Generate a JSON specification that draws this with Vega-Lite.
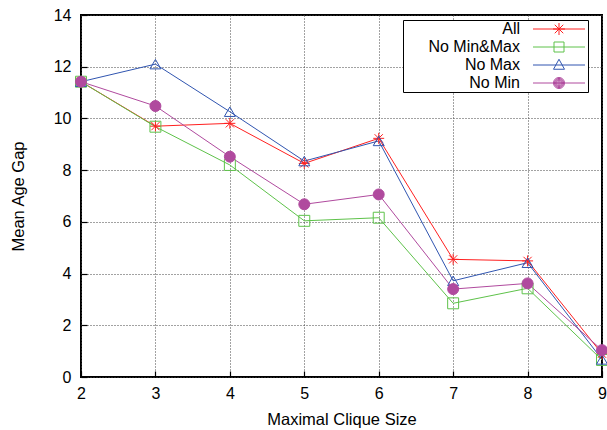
{
  "$schema": "https://vega.github.io/schema/vega-lite/v6.json",
  "width": 521,
  "height": 362,
  "autosize": "none",
  "padding": {"left": 81, "top": 15, "right": 5, "bottom": 53},
  "config": {
    "font": "Liberation Sans",
    "view": {"stroke": "black", "strokeWidth": 2},
    "axis": {
      "labelFont": "Liberation Sans", "titleFont": "Liberation Sans",
      "labelFontSize": 16, "titleFontSize": 16.5, "labelColor": "black", "titleColor": "black",
      "titleFontWeight": "normal", "domain": false,
      "tickColor": "black", "tickSize": -6, "tickWidth": 1.2,
      "gridColor": "#444", "gridDash": [1, 2], "gridWidth": 1, "gridOpacity": 1
    }
  },
  "data": {
    "values": [
      {"x": 2, "series": "All", "y": 11.42},
      {"x": 3, "series": "All", "y": 9.7},
      {"x": 4, "series": "All", "y": 9.81},
      {"x": 5, "series": "All", "y": 8.26},
      {"x": 6, "series": "All", "y": 9.23},
      {"x": 7, "series": "All", "y": 4.55},
      {"x": 8, "series": "All", "y": 4.49},
      {"x": 9, "series": "All", "y": 0.9},
      {"x": 2, "series": "No Min&Max", "y": 11.42},
      {"x": 3, "series": "No Min&Max", "y": 9.68},
      {"x": 4, "series": "No Min&Max", "y": 8.2},
      {"x": 5, "series": "No Min&Max", "y": 6.04},
      {"x": 6, "series": "No Min&Max", "y": 6.16},
      {"x": 7, "series": "No Min&Max", "y": 2.85},
      {"x": 8, "series": "No Min&Max", "y": 3.43},
      {"x": 9, "series": "No Min&Max", "y": 0.66},
      {"x": 2, "series": "No Max", "y": 11.42},
      {"x": 3, "series": "No Max", "y": 12.1},
      {"x": 4, "series": "No Max", "y": 10.26},
      {"x": 5, "series": "No Max", "y": 8.35},
      {"x": 6, "series": "No Max", "y": 9.13},
      {"x": 7, "series": "No Max", "y": 3.72},
      {"x": 8, "series": "No Max", "y": 4.42},
      {"x": 9, "series": "No Max", "y": 0.68},
      {"x": 2, "series": "No Min", "y": 11.42},
      {"x": 3, "series": "No Min", "y": 10.48},
      {"x": 4, "series": "No Min", "y": 8.52},
      {"x": 5, "series": "No Min", "y": 6.68},
      {"x": 6, "series": "No Min", "y": 7.06},
      {"x": 7, "series": "No Min", "y": 3.4},
      {"x": 8, "series": "No Min", "y": 3.62},
      {"x": 9, "series": "No Min", "y": 1.04}
    ]
  },
  "encoding": {
    "x": {"field": "x", "type": "quantitative", "title": "Maximal Clique Size",
      "scale": {"domain": [2, 9], "nice": false, "zero": false},
      "axis": {"values": [2, 3, 4, 5, 6, 7, 8, 9], "labelPadding": 14, "titlePadding": 10, "labelFlush": false}},
    "y": {"field": "y", "type": "quantitative", "title": "Mean Age Gap",
      "scale": {"domain": [0, 14], "nice": false},
      "axis": {"values": [0, 2, 4, 6, 8, 10, 12, 14], "labelPadding": 16, "titlePadding": 27}},
    "color": {"field": "series", "type": "nominal",
      "scale": {"domain": ["All", "No Min&Max", "No Max", "No Min"], "range": ["#ff2020", "#5ec24a", "#3055b0", "#b04a9e"]},
      "legend": {"orient": "none", "legendX": 322, "legendY": 5, "title": null,
        "labelFontSize": 16, "labelFont": "Liberation Sans", "labelColor": "black",
        "labelAlign": "right", "labelOffset": -47, "symbolOffset": 147, "symbolSize": 100, "symbolStrokeWidth": 1,
        "symbolFillColor": "transparent",
        "rowPadding": 2, "padding": 1, "strokeColor": "black", "fillColor": "white"}}
  },
  "layer": [
    {"mark": {"type": "line", "strokeWidth": 1}},
    {"transform": [{"filter": "datum.series == 'All'"}],
      "mark": {"type": "point", "size": 120, "strokeWidth": 1, "opacity": 1, "filled": false,
        "shape": "M-1,0H1M0,-1V1M-0.75,-0.75L0.75,0.75M-0.75,0.75L0.75,-0.75"}},
    {"transform": [{"filter": "datum.series == 'No Min&Max'"}],
      "mark": {"type": "point", "size": 120, "strokeWidth": 1, "opacity": 1, "filled": false, "shape": "square"}},
    {"transform": [{"filter": "datum.series == 'No Max'"}],
      "mark": {"type": "point", "size": 120, "strokeWidth": 1, "opacity": 1, "filled": false, "shape": "triangle-up"}},
    {"transform": [{"filter": "datum.series == 'No Min'"}],
      "mark": {"type": "point", "size": 120, "strokeWidth": 1, "opacity": 1, "filled": false, "fill": "#b04a9e", "shape": "circle"}},
    {"transform": [{"filter": "datum.x > 100"}],
      "mark": {"type": "point", "size": 100, "strokeWidth": 1, "opacity": 1, "filled": false},
      "encoding": {
        "shape": {"field": "series", "type": "nominal",
          "scale": {"domain": ["All", "No Min&Max", "No Max", "No Min"],
            "range": [
              "M-5.2,0H5.2M-1.2,0H1.2M0,-1.2V1.2M-0.85,-0.85L0.85,0.85M-0.85,0.85L0.85,-0.85",
              "M-5.2,0H5.2M-1,-1H1V1H-1Z",
              "M-5.2,0H5.2M0,-1.15L1.1,0.85H-1.1Z",
              "M-5.2,0H5.2M-1.1,0A1.1,1.1,0,1,0,1.1,0A1.1,1.1,0,1,0,-1.1,0M-0.92,0A0.92,0.92,0,1,0,0.92,0A0.92,0.92,0,1,0,-0.92,0M-0.74,0A0.74,0.74,0,1,0,0.74,0A0.74,0.74,0,1,0,-0.74,0M-0.56,0A0.56,0.56,0,1,0,0.56,0A0.56,0.56,0,1,0,-0.56,0M-0.38,0A0.38,0.38,0,1,0,0.38,0A0.38,0.38,0,1,0,-0.38,0M-0.2,0A0.2,0.2,0,1,0,0.2,0A0.2,0.2,0,1,0,-0.2,0"]}}
      }}
  ]
}
